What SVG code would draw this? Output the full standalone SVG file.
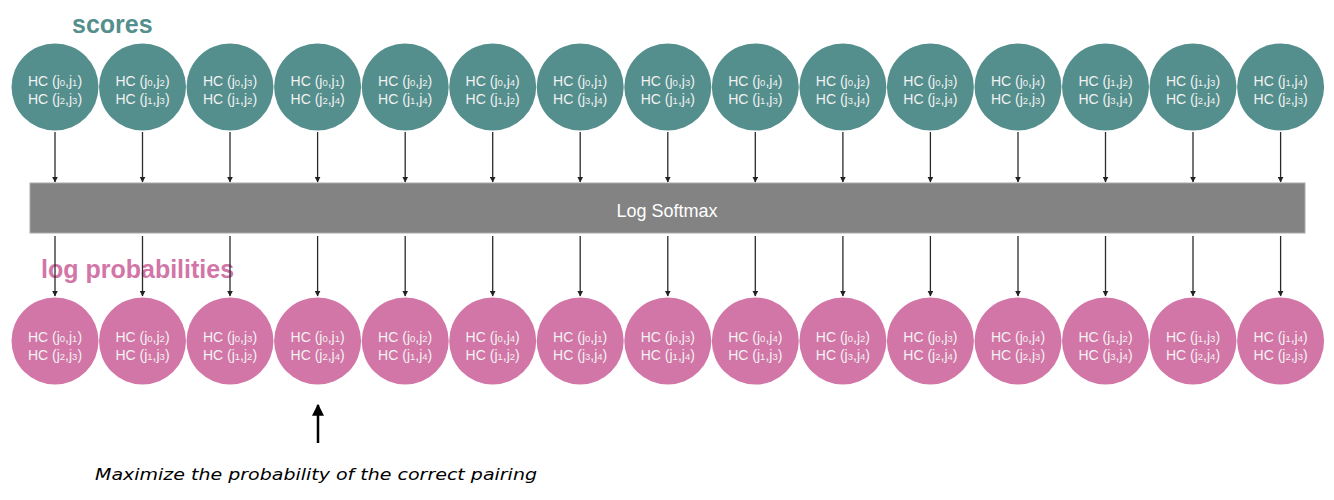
<svg xmlns="http://www.w3.org/2000/svg" width="1334" height="500" viewBox="0 0 1334 500">
<style>
.t{fill:#548F8D}
.p{fill:#D276A7}
.lbl{font-family:"Liberation Sans",Arial,sans-serif;font-size:14px;fill:#F2F2F2;text-anchor:middle}
.s{font-size:9.5px}
.con{stroke:#2a2a2a;stroke-width:1.3;fill:none;marker-end:url(#ah)}
.title{font-family:"Liberation Sans",Arial,sans-serif;font-weight:bold;font-size:25px}
</style>
<defs>
<marker id="ah" viewBox="0 0 10 10" refX="9" refY="5" markerWidth="6" markerHeight="6" orient="auto" markerUnits="userSpaceOnUse"><path d="M0,0 L10,5 L0,10 z" fill="#222"/></marker>
<marker id="bh" viewBox="0 0 10 10" refX="9" refY="5" markerWidth="12" markerHeight="12" orient="auto" markerUnits="userSpaceOnUse"><path d="M0,0 L10,5 L0,10 z" fill="#000"/></marker>
</defs>
<rect width="1334" height="500" fill="#fff"/>
<text class="title" x="72" y="33" fill="#548F8D">scores</text>
<text class="title" x="41" y="278" fill="#D276A7">log probabilities</text>
<g id="connectors">
<path class="con" d="M55,132V182"/><path class="con" d="M142.5,132V182"/><path class="con" d="M230,132V182"/><path class="con" d="M317.6,132V182"/><path class="con" d="M405.2,132V182"/><path class="con" d="M492.7,132V182"/><path class="con" d="M580.2,132V182"/><path class="con" d="M667.8,132V182"/><path class="con" d="M755.3,132V182"/><path class="con" d="M842.9,132V182"/><path class="con" d="M930.4,132V182"/><path class="con" d="M1018,132V182"/><path class="con" d="M1105.5,132V182"/><path class="con" d="M1193,132V182"/><path class="con" d="M1280.6,132V182"/>
<path class="con" d="M55,236V296"/><path class="con" d="M142.5,236V296"/><path class="con" d="M230,236V296"/><path class="con" d="M317.6,236V296"/><path class="con" d="M405.2,236V296"/><path class="con" d="M492.7,236V296"/><path class="con" d="M580.2,236V296"/><path class="con" d="M667.8,236V296"/><path class="con" d="M755.3,236V296"/><path class="con" d="M842.9,236V296"/><path class="con" d="M930.4,236V296"/><path class="con" d="M1018,236V296"/><path class="con" d="M1105.5,236V296"/><path class="con" d="M1193,236V296"/><path class="con" d="M1280.6,236V296"/>
<path d="M318,443V405" stroke="#000" stroke-width="2.5" fill="none" marker-end="url(#bh)"/>
</g>
<g id="softmax">
<rect x="30" y="183" width="1275" height="50" fill="#838383" stroke="#aaa" stroke-width="1"/>
<text x="667" y="217" font-family="'Liberation Sans',Arial,sans-serif" font-size="18" font-weight="500" fill="#fff" text-anchor="middle">Log Softmax</text>
</g>
<g id="top">
<g id="s1"><circle class="t" cx="55" cy="87" r="43.5"/><text class="lbl" x="55" y="86">HC (j<tspan class="s">0</tspan>,j<tspan class="s">1</tspan>)</text><text class="lbl" x="55" y="104">HC (j<tspan class="s">2</tspan>,j<tspan class="s">3</tspan>)</text></g>
<g id="s2"><circle class="t" cx="142.5" cy="87" r="43.5"/><text class="lbl" x="142.5" y="86">HC (j<tspan class="s">0</tspan>,j<tspan class="s">2</tspan>)</text><text class="lbl" x="142.5" y="104">HC (j<tspan class="s">1</tspan>,j<tspan class="s">3</tspan>)</text></g>
<g id="s3"><circle class="t" cx="230" cy="87" r="43.5"/><text class="lbl" x="230" y="86">HC (j<tspan class="s">0</tspan>,j<tspan class="s">3</tspan>)</text><text class="lbl" x="230" y="104">HC (j<tspan class="s">1</tspan>,j<tspan class="s">2</tspan>)</text></g>
<g id="s4"><circle class="t" cx="317.6" cy="87" r="43.5"/><text class="lbl" x="317.6" y="86">HC (j<tspan class="s">0</tspan>,j<tspan class="s">1</tspan>)</text><text class="lbl" x="317.6" y="104">HC (j<tspan class="s">2</tspan>,j<tspan class="s">4</tspan>)</text></g>
<g id="s5"><circle class="t" cx="405.2" cy="87" r="43.5"/><text class="lbl" x="405.2" y="86">HC (j<tspan class="s">0</tspan>,j<tspan class="s">2</tspan>)</text><text class="lbl" x="405.2" y="104">HC (j<tspan class="s">1</tspan>,j<tspan class="s">4</tspan>)</text></g>
<g id="s6"><circle class="t" cx="492.7" cy="87" r="43.5"/><text class="lbl" x="492.7" y="86">HC (j<tspan class="s">0</tspan>,j<tspan class="s">4</tspan>)</text><text class="lbl" x="492.7" y="104">HC (j<tspan class="s">1</tspan>,j<tspan class="s">2</tspan>)</text></g>
<g id="s7"><circle class="t" cx="580.2" cy="87" r="43.5"/><text class="lbl" x="580.2" y="86">HC (j<tspan class="s">0</tspan>,j<tspan class="s">1</tspan>)</text><text class="lbl" x="580.2" y="104">HC (j<tspan class="s">3</tspan>,j<tspan class="s">4</tspan>)</text></g>
<g id="s8"><circle class="t" cx="667.8" cy="87" r="43.5"/><text class="lbl" x="667.8" y="86">HC (j<tspan class="s">0</tspan>,j<tspan class="s">3</tspan>)</text><text class="lbl" x="667.8" y="104">HC (j<tspan class="s">1</tspan>,j<tspan class="s">4</tspan>)</text></g>
<g id="s9"><circle class="t" cx="755.3" cy="87" r="43.5"/><text class="lbl" x="755.3" y="86">HC (j<tspan class="s">0</tspan>,j<tspan class="s">4</tspan>)</text><text class="lbl" x="755.3" y="104">HC (j<tspan class="s">1</tspan>,j<tspan class="s">3</tspan>)</text></g>
<g id="s10"><circle class="t" cx="842.9" cy="87" r="43.5"/><text class="lbl" x="842.9" y="86">HC (j<tspan class="s">0</tspan>,j<tspan class="s">2</tspan>)</text><text class="lbl" x="842.9" y="104">HC (j<tspan class="s">3</tspan>,j<tspan class="s">4</tspan>)</text></g>
<g id="s11"><circle class="t" cx="930.4" cy="87" r="43.5"/><text class="lbl" x="930.4" y="86">HC (j<tspan class="s">0</tspan>,j<tspan class="s">3</tspan>)</text><text class="lbl" x="930.4" y="104">HC (j<tspan class="s">2</tspan>,j<tspan class="s">4</tspan>)</text></g>
<g id="s12"><circle class="t" cx="1018" cy="87" r="43.5"/><text class="lbl" x="1018" y="86">HC (j<tspan class="s">0</tspan>,j<tspan class="s">4</tspan>)</text><text class="lbl" x="1018" y="104">HC (j<tspan class="s">2</tspan>,j<tspan class="s">3</tspan>)</text></g>
<g id="s13"><circle class="t" cx="1105.5" cy="87" r="43.5"/><text class="lbl" x="1105.5" y="86">HC (j<tspan class="s">1</tspan>,j<tspan class="s">2</tspan>)</text><text class="lbl" x="1105.5" y="104">HC (j<tspan class="s">3</tspan>,j<tspan class="s">4</tspan>)</text></g>
<g id="s14"><circle class="t" cx="1193" cy="87" r="43.5"/><text class="lbl" x="1193" y="86">HC (j<tspan class="s">1</tspan>,j<tspan class="s">3</tspan>)</text><text class="lbl" x="1193" y="104">HC (j<tspan class="s">2</tspan>,j<tspan class="s">4</tspan>)</text></g>
<g id="s15"><circle class="t" cx="1280.6" cy="87" r="43.5"/><text class="lbl" x="1280.6" y="86">HC (j<tspan class="s">1</tspan>,j<tspan class="s">4</tspan>)</text><text class="lbl" x="1280.6" y="104">HC (j<tspan class="s">2</tspan>,j<tspan class="s">3</tspan>)</text></g>
</g>
<g id="bottom">
<g id="p1"><circle class="p" cx="55" cy="341" r="43.5"/><text class="lbl" x="55" y="342">HC (j<tspan class="s">0</tspan>,j<tspan class="s">1</tspan>)</text><text class="lbl" x="55" y="360">HC (j<tspan class="s">2</tspan>,j<tspan class="s">3</tspan>)</text></g>
<g id="p2"><circle class="p" cx="142.5" cy="341" r="43.5"/><text class="lbl" x="142.5" y="342">HC (j<tspan class="s">0</tspan>,j<tspan class="s">2</tspan>)</text><text class="lbl" x="142.5" y="360">HC (j<tspan class="s">1</tspan>,j<tspan class="s">3</tspan>)</text></g>
<g id="p3"><circle class="p" cx="230" cy="341" r="43.5"/><text class="lbl" x="230" y="342">HC (j<tspan class="s">0</tspan>,j<tspan class="s">3</tspan>)</text><text class="lbl" x="230" y="360">HC (j<tspan class="s">1</tspan>,j<tspan class="s">2</tspan>)</text></g>
<g id="p4"><circle class="p" cx="317.6" cy="341" r="43.5"/><text class="lbl" x="317.6" y="342">HC (j<tspan class="s">0</tspan>,j<tspan class="s">1</tspan>)</text><text class="lbl" x="317.6" y="360">HC (j<tspan class="s">2</tspan>,j<tspan class="s">4</tspan>)</text></g>
<g id="p5"><circle class="p" cx="405.2" cy="341" r="43.5"/><text class="lbl" x="405.2" y="342">HC (j<tspan class="s">0</tspan>,j<tspan class="s">2</tspan>)</text><text class="lbl" x="405.2" y="360">HC (j<tspan class="s">1</tspan>,j<tspan class="s">4</tspan>)</text></g>
<g id="p6"><circle class="p" cx="492.7" cy="341" r="43.5"/><text class="lbl" x="492.7" y="342">HC (j<tspan class="s">0</tspan>,j<tspan class="s">4</tspan>)</text><text class="lbl" x="492.7" y="360">HC (j<tspan class="s">1</tspan>,j<tspan class="s">2</tspan>)</text></g>
<g id="p7"><circle class="p" cx="580.2" cy="341" r="43.5"/><text class="lbl" x="580.2" y="342">HC (j<tspan class="s">0</tspan>,j<tspan class="s">1</tspan>)</text><text class="lbl" x="580.2" y="360">HC (j<tspan class="s">3</tspan>,j<tspan class="s">4</tspan>)</text></g>
<g id="p8"><circle class="p" cx="667.8" cy="341" r="43.5"/><text class="lbl" x="667.8" y="342">HC (j<tspan class="s">0</tspan>,j<tspan class="s">3</tspan>)</text><text class="lbl" x="667.8" y="360">HC (j<tspan class="s">1</tspan>,j<tspan class="s">4</tspan>)</text></g>
<g id="p9"><circle class="p" cx="755.3" cy="341" r="43.5"/><text class="lbl" x="755.3" y="342">HC (j<tspan class="s">0</tspan>,j<tspan class="s">4</tspan>)</text><text class="lbl" x="755.3" y="360">HC (j<tspan class="s">1</tspan>,j<tspan class="s">3</tspan>)</text></g>
<g id="p10"><circle class="p" cx="842.9" cy="341" r="43.5"/><text class="lbl" x="842.9" y="342">HC (j<tspan class="s">0</tspan>,j<tspan class="s">2</tspan>)</text><text class="lbl" x="842.9" y="360">HC (j<tspan class="s">3</tspan>,j<tspan class="s">4</tspan>)</text></g>
<g id="p11"><circle class="p" cx="930.4" cy="341" r="43.5"/><text class="lbl" x="930.4" y="342">HC (j<tspan class="s">0</tspan>,j<tspan class="s">3</tspan>)</text><text class="lbl" x="930.4" y="360">HC (j<tspan class="s">2</tspan>,j<tspan class="s">4</tspan>)</text></g>
<g id="p12"><circle class="p" cx="1018" cy="341" r="43.5"/><text class="lbl" x="1018" y="342">HC (j<tspan class="s">0</tspan>,j<tspan class="s">4</tspan>)</text><text class="lbl" x="1018" y="360">HC (j<tspan class="s">2</tspan>,j<tspan class="s">3</tspan>)</text></g>
<g id="p13"><circle class="p" cx="1105.5" cy="341" r="43.5"/><text class="lbl" x="1105.5" y="342">HC (j<tspan class="s">1</tspan>,j<tspan class="s">2</tspan>)</text><text class="lbl" x="1105.5" y="360">HC (j<tspan class="s">3</tspan>,j<tspan class="s">4</tspan>)</text></g>
<g id="p14"><circle class="p" cx="1193" cy="341" r="43.5"/><text class="lbl" x="1193" y="342">HC (j<tspan class="s">1</tspan>,j<tspan class="s">3</tspan>)</text><text class="lbl" x="1193" y="360">HC (j<tspan class="s">2</tspan>,j<tspan class="s">4</tspan>)</text></g>
<g id="p15"><circle class="p" cx="1280.6" cy="341" r="43.5"/><text class="lbl" x="1280.6" y="342">HC (j<tspan class="s">1</tspan>,j<tspan class="s">4</tspan>)</text><text class="lbl" x="1280.6" y="360">HC (j<tspan class="s">2</tspan>,j<tspan class="s">3</tspan>)</text></g>
</g>
<text x="95" y="480" font-family="'DejaVu Sans',sans-serif" font-style="italic" font-size="15" fill="#000" textLength="442" lengthAdjust="spacingAndGlyphs">Maximize the probability of the correct pairing</text>
</svg>
